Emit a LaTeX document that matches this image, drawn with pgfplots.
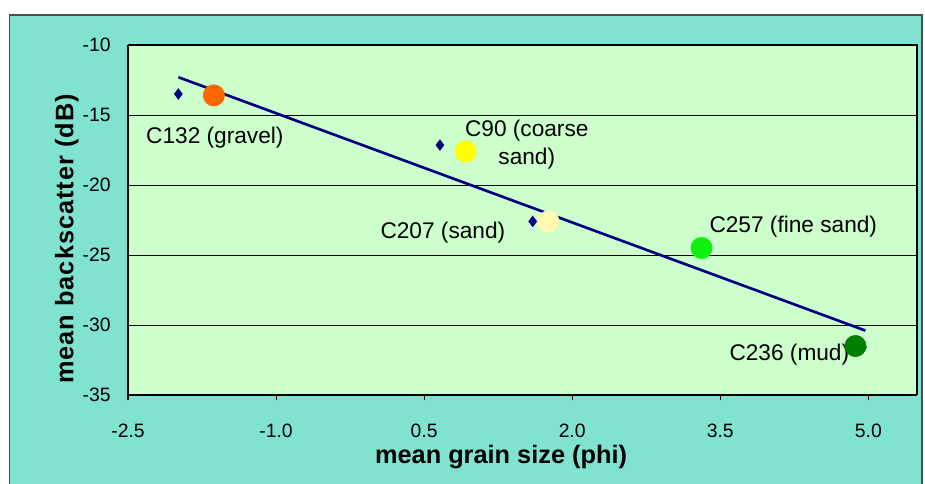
\documentclass[border=0pt]{standalone}
\usepackage{pgfplots}
\pgfplotsset{compat=1.18}
\usepackage{fontspec}
\setmainfont{Liberation Sans}
\definecolor{framebg}{HTML}{80E3D0}
\definecolor{plotbg}{HTML}{CCFFCC}
\definecolor{navy}{HTML}{000080}
\definecolor{gravel}{HTML}{FF6600}
\definecolor{coarse}{HTML}{FFFF00}
\definecolor{sand}{HTML}{FFFAB0}
\definecolor{fine}{HTML}{11F011}
\definecolor{mud}{HTML}{008000}

% one reference pixel = 0.75pt
\begin{document}
\begin{tikzpicture}[x=1pt,y=1pt]
\clip (-96,-66.75) rectangle (597.75,296.25);
\fill[white] (-96,-66.75) rectangle (597.75,296.25);
\filldraw[fill=framebg, draw=gray!60!black, line width=0.8pt] (-89,-80) rectangle (595.5,285);
\begin{axis}[
    at={(0,0)}, anchor=south west,
    scale only axis,
    width=591.5pt, height=262.5pt,
    xmin=-2.5, xmax=5.49,
    ymin=-35, ymax=-10,
    xtick={-2.5,-1,0.5,2,3.5,5},
    ytick={-35,-30,-25,-20,-15,-10},
    xticklabel style={yshift=-14pt, /pgf/number format/.cd, fixed, fixed zerofill, precision=1},
    /pgf/number format/assume math mode=true,
    ticklabel style={font=\fontsize{14.5}{16}\selectfont},
    tick align=outside,
    major tick length=4pt,
    ytick style={draw=none},
    xtick style={black, line width=0.8pt},
    axis x line*=bottom,
    axis y line*=left,
    axis line style={black, line width=1.5pt, -},
    ymajorgrids,
    grid style={black, line width=0.6pt},
    axis background/.style={fill=plotbg},
    clip=false,
    xlabel={mean grain size (phi)},
    ylabel={mean backscatter (dB)},
    xlabel style={font=\bfseries\fontsize{19}{21}\selectfont, at={(axis description cs:0.473,-0.177)}, anchor=center},
    ylabel style={font=\bfseries\fontsize{19}{21}\selectfont\addfontfeature{LetterSpace=4}, at={(axis description cs:-0.0775,0.446)}, anchor=center},
    yticklabel style={xshift=-5.5pt},
]
% right and top frame of plot area
\draw[black, line width=1.5pt] (rel axis cs:0,1) -- (rel axis cs:1,1) -- (rel axis cs:1,0);
% linear trend
\addplot[navy, line width=2pt] coordinates {(-1.99,-12.3) (4.97,-30.4)};
% measured points
\addplot[only marks, mark=diamond*, mark size=4pt, navy] coordinates {
    (-1.99,-13.5) (0.66,-17.15) (1.60,-22.6) (3.31,-24.5) (4.94,-31.6)
};
% sample classes
\addplot[only marks, mark=*, mark size=8pt, mark options={draw=gravel, fill=gravel}] coordinates {(-1.63,-13.6)};
\addplot[only marks, mark=*, mark size=8pt, mark options={draw=coarse, fill=coarse}] coordinates {(0.92,-17.6)};
\addplot[only marks, mark=*, mark size=8pt, mark options={draw=sand, fill=sand}] coordinates {(1.76,-22.6)};
\addplot[only marks, mark=*, mark size=8pt, mark options={draw=fine, fill=fine}] coordinates {(3.31,-24.5)};
\addplot[only marks, mark=*, mark size=8pt, mark options={draw=mud, fill=mud}] coordinates {(4.87,-31.5)};
\begin{scope}[font=\fontsize{17}{21}\selectfont]
\node at (axis cs:-1.62,-16.6) {C132 (gravel)};
\node[align=center] at (axis cs:1.54,-17.1) {C90 (coarse\\sand)};
\node at (axis cs:0.69,-23.4) {C207 (sand)};
\node at (axis cs:4.24,-23.0) {C257 (fine sand)};
\node at (axis cs:4.20,-32.1) {C236 (mud)};
\end{scope}
\end{axis}
\end{tikzpicture}
\end{document}
